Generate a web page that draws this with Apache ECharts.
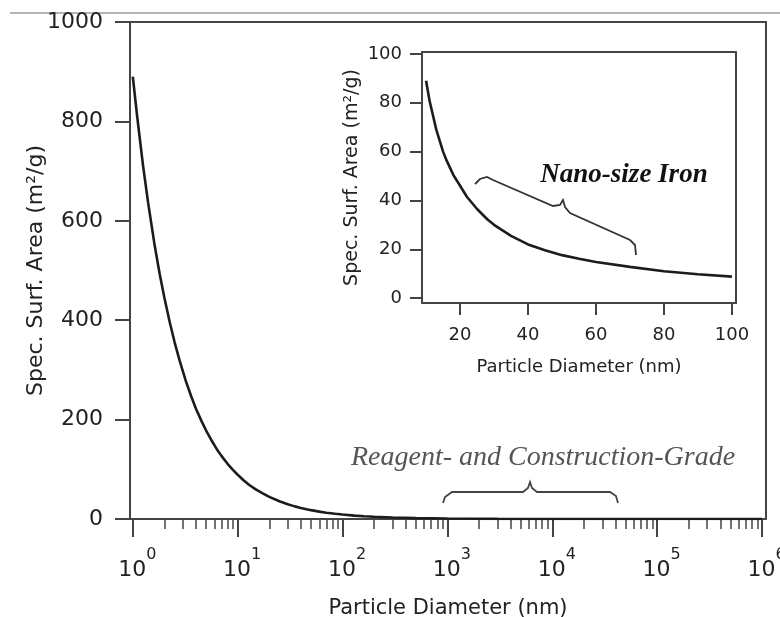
<!DOCTYPE html>
<html>
<head>
<meta charset="utf-8">
<script src="https://cdn.jsdelivr.net/npm/echarts@6/dist/echarts.min.js"></script>
<style>
  html, body { margin: 0; padding: 0; background: #fff; }
  #chart { width: 780px; height: 617px; }
</style>
</head>
<body>
<div id="chart"></div>
<script>
// 主图数据：粒径 (nm) 与比表面积 (m2/g)
const mainDiameter = [1, 1.1, 1.25, 1.4, 1.6, 1.8, 2, 2.25, 2.5, 2.8, 3.2, 3.6, 4, 4.5, 5, 5.6, 6.3, 7, 8, 9, 10, 11.5, 13, 15, 17.5, 20, 25, 30, 35, 40, 50, 60, 70, 85, 100, 130, 160, 200, 300, 500, 1000, 3000, 10000, 100000, 1000000];
const mainArea = [890, 810, 712, 636, 556, 494, 445, 396, 356, 318, 278, 247, 222, 198, 178, 159, 141, 127, 111, 99, 89, 77, 68, 59, 51, 44.5, 35.6, 29.7, 25.4, 22.2, 17.8, 14.8, 12.7, 10.5, 8.9, 6.8, 5.6, 4.5, 3, 1.8, 0.9, 0.3, 0.09, 0.009, 0.0009];

// 插图数据：纳米铁 10-100 nm
const insetDiameter = [10, 11, 12, 13, 14, 15, 16, 18, 20, 22, 25, 28, 30, 35, 40, 45, 50, 55, 60, 70, 80, 90, 100];
const insetArea = [89, 81, 75, 69, 64.5, 60, 56.5, 50.5, 46, 41.5, 36.5, 32.3, 30, 25.5, 22, 19.6, 17.6, 16.1, 14.8, 12.8, 11, 9.8, 8.8];

// 刻度
const mainXTicks = [1, 10, 100, 1000, 10000, 100000, 1000000];
const mainXExps = ['0', '1', '2', '3', '4', '5', '6'];
const mainYTicks = [0, 200, 400, 600, 800, 1000];
const insetXTicks = [20, 40, 60, 80, 100];
const insetYTicks = [0, 20, 40, 60, 80, 100];

// 对数轴的次刻度 2..9
const minorTicks = [];
for (let p = 0; p < 6; p++) {
    for (let k = 2; k <= 9; k++) {
        minorTicks.push(k * Math.pow(10, p));
    }
}

const axisColor = '#444';
const textColor = '#222';
const sans = 'DejaVu Sans';

const chart = echarts.init(document.getElementById('chart'));

function frameAxis(type, gridIndex, position, min, max) {
    return {
        type: type,
        gridIndex: gridIndex,
        position: position,
        min: min,
        max: max,
        axisLine: { show: true, onZero: false, lineStyle: { color: axisColor, width: 2 } },
        axisTick: { show: false },
        axisLabel: { show: false },
        splitLine: { show: false }
    };
}

const option = {
    animation: false,
    backgroundColor: '#fff',
    grid: [
        { left: 130, right: 14, top: 22, bottom: 98, outerBoundsMode: 'none', containLabel: false },
        { left: 422, right: 44, top: 52, bottom: 314, outerBoundsMode: 'none', containLabel: false }
    ],
    xAxis: [
        {
            type: 'log',
            gridIndex: 0,
            position: 'bottom',
            min: 0.94,
            max: 1.09e6,
            axisLine: { onZero: false, lineStyle: { color: axisColor, width: 2 } },
            axisTick: { customValues: mainXTicks, length: 18, lineStyle: { color: axisColor, width: 2 } },
            axisLabel: {
                customValues: mainXTicks,
                margin: 28,
                hideOverlap: false,
                formatter: v => {
                    const i = mainXTicks.indexOf(v);
                    return '{b|10}{s|' + (i >= 0 ? mainXExps[i] : '') + '}';
                },
                rich: {
                    b: { fontFamily: sans, fontSize: 22, color: textColor, padding: [12, 0, 0, 9], verticalAlign: 'bottom' },
                    s: { fontFamily: sans, fontSize: 16, color: textColor, verticalAlign: 'top', padding: [0, 0, 16, 0] }
                }
            },
            splitLine: { show: false },
            name: 'Particle Diameter (nm)',
            nameLocation: 'middle',
            nameGap: 79,
            nameMoveOverlap: false,
            nameTextStyle: { fontFamily: sans, fontSize: 21, color: textColor }
        },
        {
            type: 'log',
            gridIndex: 0,
            position: 'bottom',
            min: 0.94,
            max: 1.09e6,
            axisLine: { show: false, onZero: false },
            axisTick: { customValues: minorTicks, length: 10, lineStyle: { color: axisColor, width: 1.5 } },
            axisLabel: { show: false },
            splitLine: { show: false }
        },
        frameAxis('log', 0, 'top', 0.94, 1.09e6),
        {
            type: 'value',
            gridIndex: 1,
            position: 'bottom',
            min: 8.8,
            max: 101.2,
            axisLine: { onZero: false, lineStyle: { color: axisColor, width: 2 } },
            axisTick: { customValues: insetXTicks, length: 12, lineStyle: { color: axisColor, width: 2 } },
            axisLabel: { customValues: insetXTicks, margin: 23, fontFamily: sans, fontSize: 18, color: textColor },
            splitLine: { show: false },
            name: 'Particle Diameter (nm)',
            nameLocation: 'middle',
            nameGap: 55,
            nameMoveOverlap: false,
            nameTextStyle: { fontFamily: sans, fontSize: 18, color: textColor }
        },
        frameAxis('value', 1, 'top', 8.8, 101.2)
    ],
    yAxis: [
        {
            type: 'value',
            gridIndex: 0,
            position: 'left',
            min: 0,
            max: 1000,
            axisLine: { show: true, onZero: false, lineStyle: { color: axisColor, width: 2 } },
            axisTick: { customValues: mainYTicks, length: 15, lineStyle: { color: axisColor, width: 2 } },
            axisLabel: { customValues: mainYTicks, margin: 27, fontFamily: sans, fontSize: 22, color: textColor, formatter: v => String(v) },
            splitLine: { show: false },
            name: 'Spec. Surf. Area (m²/g)',
            nameLocation: 'middle',
            nameRotate: 90,
            nameGap: 83,
            nameMoveOverlap: false,
            nameTextStyle: { fontFamily: sans, fontSize: 22, color: textColor }
        },
        frameAxis('value', 0, 'right', 0, 1000),
        {
            type: 'value',
            gridIndex: 1,
            position: 'left',
            min: -2,
            max: 100.8,
            axisLine: { show: true, onZero: false, lineStyle: { color: axisColor, width: 2 } },
            axisTick: { customValues: insetYTicks, length: 12, lineStyle: { color: axisColor, width: 2 } },
            axisLabel: { customValues: insetYTicks, margin: 20, fontFamily: sans, fontSize: 18, color: textColor, formatter: v => String(v) },
            splitLine: { show: false },
            name: 'Spec. Surf. Area (m²/g)',
            nameLocation: 'middle',
            nameRotate: 90,
            nameGap: 60,
            nameTextStyle: { fontFamily: sans, fontSize: 19, color: textColor }
        },
        frameAxis('value', 1, 'right', -2, 100.8)
    ],
    series: [
        {
            type: 'line',
            xAxisIndex: 0,
            yAxisIndex: 0,
            data: mainDiameter.map((d, i) => [d, mainArea[i]]),
            showSymbol: false,
            smooth: false,
            lineStyle: { color: '#1c1c1c', width: 2.6 }
        },
        {
            type: 'line',
            xAxisIndex: 3,
            yAxisIndex: 2,
            data: insetDiameter.map((d, i) => [d, insetArea[i]]),
            showSymbol: false,
            smooth: false,
            lineStyle: { color: '#1c1c1c', width: 2.6 }
        }
    ],
    graphic: [
        // 顶部的灰色边线
        { type: 'line', shape: { x1: 10, y1: 13, x2: 780, y2: 13 }, style: { stroke: '#b5b5b5', lineWidth: 2 } },
        {
            type: 'text', x: 624, y: 175,
            style: {
                text: 'Nano-size Iron', font: 'italic bold 27px "Liberation Serif"', fill: '#111',
                align: 'center', verticalAlign: 'middle', textAlign: 'center', textVerticalAlign: 'middle'
            }
        },
        {
            type: 'polyline',
            shape: { points: [[475, 184], [480, 179], [487, 177], [493, 180], [553, 206], [560, 205], [563, 200], [565, 207], [570, 213], [630, 240], [635, 245], [636, 255]] },
            style: { stroke: '#333', lineWidth: 1.8, fill: null }
        },
        {
            type: 'text', x: 543, y: 458,
            style: {
                text: 'Reagent- and Construction-Grade', font: 'italic 28px "Liberation Serif"', fill: '#555',
                align: 'center', verticalAlign: 'middle', textAlign: 'center', textVerticalAlign: 'middle'
            }
        },
        {
            type: 'polyline',
            shape: { points: [[443, 503], [445, 497], [452, 492], [523, 492], [528, 488], [530, 482], [532, 488], [537, 492], [610, 492], [616, 496], [618, 503]] },
            style: { stroke: '#444', lineWidth: 1.8, fill: null }
        }
    ]
};

chart.setOption(option);
</script>
</body>
</html>
